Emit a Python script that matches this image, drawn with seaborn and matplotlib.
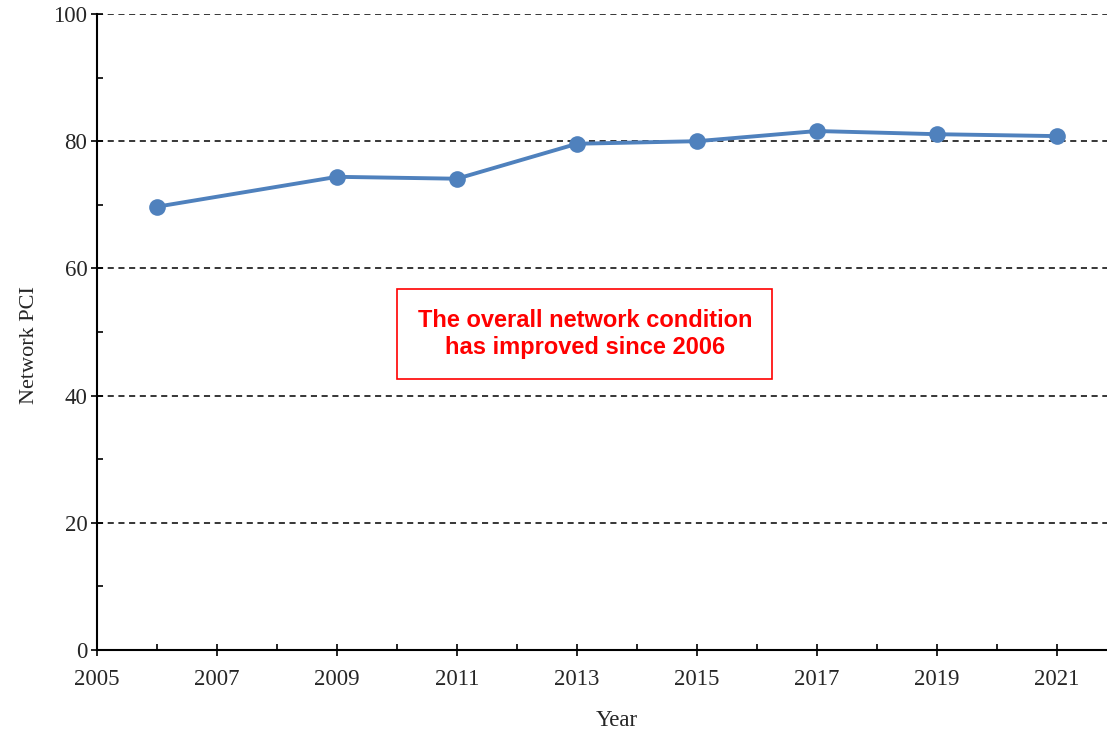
import matplotlib
matplotlib.use("Agg")
import matplotlib.pyplot as plt
from matplotlib.ticker import MultipleLocator
import seaborn as sns
import pandas as pd

years = [2006, 2009, 2011, 2013, 2015, 2017, 2019, 2021]
pci = [69.7, 74.4, 74.1, 79.6, 80.0, 81.6, 81.1, 80.8]
note = "The overall network condition\nhas improved since 2006"

sns.set_style("ticks")
plt.rcParams['font.family'] = ['Liberation Serif', 'DejaVu Serif']

df = pd.DataFrame({"Year": years, "PCI": pci})

fig = plt.figure(figsize=(11.07, 7.38), dpi=100)
ax = fig.add_axes([97/1107, 1 - 650/738, (1107 - 97)/1107, (650 - 14)/738])

for g in [20, 40, 60, 80, 100]:
    ax.axhline(g, color="black", linestyle=(0, (4, 3)), linewidth=1.1, zorder=1)

sns.lineplot(data=df, x="Year", y="PCI", ax=ax, color="#4F81BD", linewidth=2.8,
             marker="o", markersize=12, markeredgewidth=0, zorder=3)

ax.set_xlim(2005, 2005 + (1107 - 97) / 60)
ax.set_ylim(0, 100)

ax.xaxis.set_major_locator(MultipleLocator(2, offset=1))
ax.xaxis.set_minor_locator(MultipleLocator(1))
ax.yaxis.set_major_locator(MultipleLocator(20))
ax.yaxis.set_minor_locator(MultipleLocator(10))
ax.tick_params(which="both", bottom=True, left=True, top=False, right=False)
ax.tick_params(which="major", direction="inout", length=8, width=1.2, labelsize=16.5, color="black")
ax.tick_params(which="minor", direction="in", length=4, width=1.2, color="black")
ax.tick_params(axis="x", which="major", pad=10)
ax.tick_params(axis="y", which="major", pad=3)

for s in ["top", "right"]:
    ax.spines[s].set_visible(False)
for s in ["left", "bottom"]:
    ax.spines[s].set_color("black")
    ax.spines[s].set_linewidth(1.5)

ax.set_xlabel("Year", fontsize=16.5, labelpad=14, x=0.515)
ax.set_ylabel("Network PCI", fontsize=16, labelpad=10, y=0.48)

ax.text(2013.13, 49.7, note, ha="center", va="center", color="red", fontsize=17,
        fontweight="bold", family=["Liberation Sans", "DejaVu Sans"], linespacing=1.2,
        bbox=dict(boxstyle="square,pad=0.85", facecolor="white", edgecolor="red", linewidth=1.2),
        zorder=4)

fig.savefig("out.png", dpi=100)
